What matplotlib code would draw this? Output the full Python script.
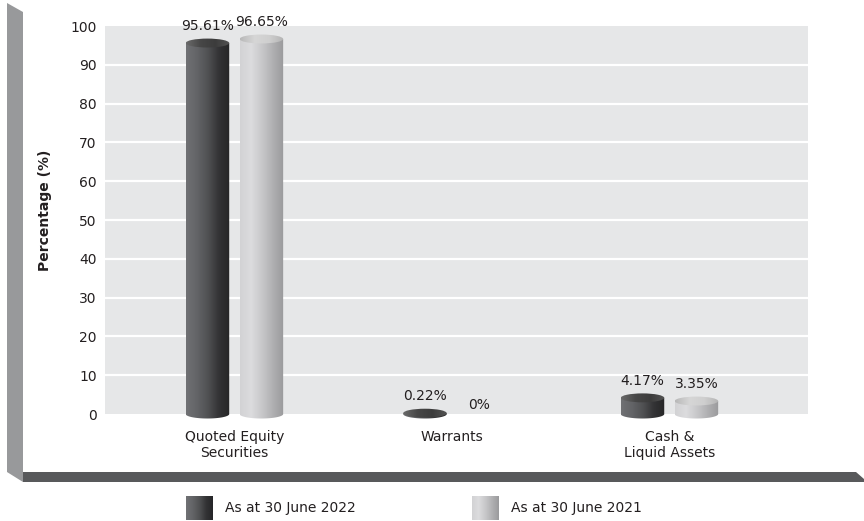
import numpy as np
import matplotlib
matplotlib.use('Agg')
import matplotlib.pyplot as plt
from matplotlib.colors import LinearSegmentedColormap
from matplotlib.patches import Polygon, Ellipse, Rectangle

categories = ['Quoted Equity\nSecurities', 'Warrants', 'Cash &\nLiquid Assets']
values_2022 = [95.61, 0.22, 4.17]
values_2021 = [96.65, 0.0, 3.35]
series_names = ['As at 30 June 2022', 'As at 30 June 2021']
y_ticks = list(range(0, 101, 10))

W, H = 864, 521
BAR_W = 0.2
OFFSET = 0.124
EH = 2.3          # ellipse height of cylinder caps, in y units
XMIN, XMAX = -0.595, 2.637
TXT = '#231f20'

plt.rcParams['font.family'] = ['DejaVu Sans']

dark_body = LinearSegmentedColormap.from_list('db', ['#707174', '#636467', '#505153', '#333335', '#262627'])
dark_top = LinearSegmentedColormap.from_list('dt', ['#6a6a6a', '#474747', '#3c3c3c', '#535353'])
light_body = LinearSegmentedColormap.from_list('lb', ['#d2d2d4', '#dcdcde', '#c8c8ca', '#b0b0b2', '#9a9a9c'])
light_top = LinearSegmentedColormap.from_list('lt', ['#b8b8b8', '#d6d6d6', '#cfcfcf', '#b3b3b3'])
grad = np.linspace(0, 1, 256)[None, :]


def fx(x):
    return x / W


def fy(y):
    return 1 - y / H


fig = plt.figure(figsize=(W / 100, H / 100), dpi=100)

# 3D frame walls
fig.patches.append(Polygon([(fx(7), fy(3)), (fx(23), fy(12)), (fx(23), fy(482)), (fx(7), fy(472))],
                           closed=True, transform=fig.transFigure, facecolor='#98999b', edgecolor='none'))
fig.patches.append(Polygon([(fx(23), fy(472)), (fx(856), fy(472)), (fx(864), fy(479)),
                            (fx(864), fy(482)), (fx(23), fy(482))],
                           closed=True, transform=fig.transFigure, facecolor='#58595b', edgecolor='none'))

ax = fig.add_axes([fx(105), fy(421.8), fx(808) - fx(105), fy(26) - fy(421.8)])
ax.set_facecolor('none')
for s in ax.spines.values():
    s.set_visible(False)
ax.add_patch(Rectangle((XMIN, 0), XMAX - XMIN, 100, facecolor='#e6e7e8', edgecolor='none', zorder=0))
for t in y_ticks[1:-1]:
    ax.axhline(t, color='white', lw=1.6, zorder=1)


def cylinder(cx, h, body_cmap, top_cmap):
    x0, x1 = cx - BAR_W / 2, cx + BAR_W / 2
    t = np.linspace(np.pi, 2 * np.pi, 60)
    pts = np.column_stack([cx + BAR_W / 2 * np.cos(t), EH / 2 * np.sin(t)])
    pts = np.vstack([pts, [[x1, h], [x0, h]]])
    body = Polygon(pts, closed=True, facecolor='none', edgecolor='none')
    ax.add_patch(body)
    im = ax.imshow(grad, extent=(x0, x1, -EH, h + EH), aspect='auto', cmap=body_cmap,
                   interpolation='bilinear', zorder=3)
    im.set_clip_path(body)
    top = Ellipse((cx, h), BAR_W, EH, facecolor='none', edgecolor='none')
    ax.add_patch(top)
    im2 = ax.imshow(grad, extent=(x0, x1, h - EH, h + EH), aspect='auto', cmap=top_cmap,
                    interpolation='bilinear', zorder=4)
    im2.set_clip_path(top)


x = np.arange(len(categories))
for vals, off, bc, tc in [(values_2022, -OFFSET, dark_body, dark_top),
                          (values_2021, OFFSET, light_body, light_top)]:
    for xi, v in zip(x, vals):
        cx = xi + off
        if v > 0:
            cylinder(cx, v, bc, tc)
            ax.text(cx, v + 2.5, f'{v:g}%', ha='center', va='bottom', fontsize=10, color=TXT, zorder=5)
        else:
            ax.text(cx, 0.5, f'{v:g}%', ha='center', va='bottom', fontsize=10, color=TXT, zorder=5)

ax.set_xlim(XMIN, XMAX)
ax.set_ylim(-2, 100)
ax.set_yticks(y_ticks)
ax.set_xticks(x, categories)
ax.tick_params(axis='y', length=0, pad=6, labelsize=10, labelcolor=TXT)
ax.tick_params(axis='x', length=0, pad=6, labelsize=10, labelcolor=TXT)
ax.set_ylabel('Percentage (%)', fontsize=10, fontweight='bold', color=TXT)
ax.yaxis.set_label_coords(-0.076, 0.535)

# legend
for (lx, cmap, name) in [(186, dark_body, series_names[0]), (472, light_body, series_names[1])]:
    lax = fig.add_axes([fx(lx), fy(520), 27 / W, 24 / H])
    lax.imshow(grad, aspect='auto', cmap=cmap, interpolation='bilinear')
    lax.axis('off')
    fig.text(fx(lx + 39), fy(508), name, va='center', ha='left', fontsize=10, color=TXT)

fig.savefig('out.png', dpi=100)
